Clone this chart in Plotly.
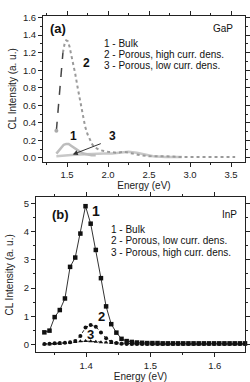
import plotly.graph_objects as go

# ---------------- GaP panel (a) ----------------
gap_e2 = [1.37, 1.39, 1.41, 1.43, 1.45, 1.47, 1.49, 1.51, 1.53, 1.55, 1.57, 1.60, 1.63, 1.66,
          1.69, 1.72, 1.75, 1.78, 1.81, 1.84, 1.87, 1.90, 1.95, 2.00, 2.10, 2.20, 2.30, 2.40,
          2.50, 2.70, 2.90, 3.10, 3.30, 3.55]
gap_i2 = [0.31, 0.52, 0.78, 1.02, 1.20, 1.30, 1.34, 1.33, 1.27, 1.19, 1.10, 0.96, 0.80, 0.64,
          0.48, 0.36, 0.27, 0.20, 0.15, 0.12, 0.10, 0.09, 0.08, 0.07, 0.06, 0.07, 0.05, 0.03,
          0.02, 0.02, 0.01, 0.01, 0.01, 0.01]
gap_e1 = [1.37, 1.40, 1.43, 1.46, 1.49, 1.52, 1.55, 1.58, 1.62, 1.66, 1.70, 1.75, 1.80, 1.85]
gap_i1 = [0.05, 0.08, 0.12, 0.15, 0.16, 0.16, 0.14, 0.12, 0.09, 0.07, 0.05, 0.04, 0.03, 0.03]
gap_e3 = [1.37, 1.45, 1.55, 1.65, 1.75, 1.85, 1.95, 2.05, 2.15, 2.25, 2.35, 2.45, 2.55, 2.70, 2.90]
gap_i3 = [0.02, 0.03, 0.035, 0.04, 0.045, 0.05, 0.05, 0.05, 0.06, 0.07, 0.06, 0.04, 0.02, 0.01, 0.01]
gap_legend = ["1 - Bulk", "2 - Porous, high curr. dens.", "3 - Porous, low curr. dens."]

# ---------------- InP panel (b) ----------------
inp_e = [1.335, 1.343, 1.351, 1.359, 1.367, 1.375, 1.383, 1.391, 1.399, 1.407, 1.415, 1.423,
         1.431, 1.439, 1.447, 1.455, 1.463, 1.471, 1.479, 1.487, 1.495, 1.503, 1.511, 1.519,
         1.527, 1.535, 1.543, 1.551, 1.559, 1.567, 1.575, 1.583, 1.591, 1.599, 1.607, 1.615,
         1.623, 1.631, 1.639, 1.647]
inp_bulk = [0.43, 0.49, 0.97, 1.22, 1.63, 2.75, 3.08, 3.93, 4.90, 4.28, 3.35, 2.35,
            1.35, 0.72, 0.42, 0.20, 0.12, 0.09, 0.07, 0.06, 0.05, 0.05, 0.05, 0.04,
            0.04, 0.04, 0.04, 0.04, 0.04, 0.04, 0.04, 0.04, 0.04, 0.04, 0.04, 0.04,
            0.04, 0.04, 0.04, 0.04]
inp_low = [0.02, 0.03, 0.04, 0.05, 0.06, 0.08, 0.12, 0.30, 0.60, 0.69, 0.63, 0.42,
           0.22, 0.10, 0.05, 0.03, 0.02, 0.02, 0.02, 0.02, 0.02, 0.02, 0.02, 0.02,
           0.02, 0.02, 0.02, 0.02, 0.02, 0.02, 0.02, 0.02, 0.02, 0.02, 0.02, 0.02,
           0.02, 0.02, 0.02, 0.02]
inp_high = [0.01, 0.01, 0.02, 0.03, 0.05, 0.07, 0.09, 0.11, 0.12, 0.11, 0.10, 0.08,
            0.07, 0.05, 0.04, 0.03, 0.02, 0.01, 0.01, 0.01, 0.01, 0.01, 0.01, 0.01,
            0.01, 0.01, 0.01, 0.01, 0.01, 0.01, 0.01, 0.01, 0.01, 0.01, 0.01, 0.01,
            0.01, 0.01, 0.01, 0.01]
inp_legend = ["1 - Bulk", "2 - Porous, low curr. dens.", "3 - Porous, high curr. dens."]

FONT = "Liberation Sans, Arial, sans-serif"
fig = go.Figure()

# panel (a) traces
fig.add_trace(go.Scatter(x=gap_e3, y=gap_i3, mode="lines", line=dict(color="#c8c8c8", width=2.5),
                         xaxis="x", yaxis="y", showlegend=False))
fig.add_trace(go.Scatter(x=gap_e1, y=gap_i1, mode="lines", line=dict(color="#bdbdbd", width=2.5),
                         xaxis="x", yaxis="y", showlegend=False))
fig.add_trace(go.Scatter(x=gap_e2[4:], y=gap_i2[4:], mode="lines", line=dict(color="#9a9a9a", width=2, dash="dot"),
                         xaxis="x", yaxis="y", showlegend=False))
fig.add_trace(go.Scatter(x=gap_e2[:5], y=gap_i2[:5], mode="lines", line=dict(color="#444444", width=1.5, dash="dash"),
                         xaxis="x", yaxis="y", showlegend=False))
fig.add_trace(go.Scatter(x=gap_e2[:1], y=gap_i2[:1], mode="markers", marker=dict(color="#aaaaaa", size=4),
                         xaxis="x", yaxis="y", showlegend=False))

# panel (b) traces
fig.add_trace(go.Scatter(x=inp_e, y=inp_high, mode="lines+markers",
                         line=dict(color="#222", width=1, dash="dot"),
                         marker=dict(symbol="triangle-up", size=4, color="#111"),
                         xaxis="x2", yaxis="y2", showlegend=False, cliponaxis=False))
fig.add_trace(go.Scatter(x=inp_e, y=inp_low, mode="lines+markers",
                         line=dict(color="#222", width=1, dash="dot"),
                         marker=dict(symbol="circle", size=4, color="#111"),
                         xaxis="x2", yaxis="y2", showlegend=False, cliponaxis=False))
fig.add_trace(go.Scatter(x=inp_e, y=inp_bulk, mode="lines+markers",
                         line=dict(color="#333", width=1),
                         marker=dict(symbol="square", size=4.5, color="#111"),
                         xaxis="x2", yaxis="y2", showlegend=False, cliponaxis=False))

ax_common = dict(showline=True, linecolor="#222", linewidth=1, mirror="allticks",
                 ticks="outside", ticklen=4, tickcolor="#222", showgrid=False, zeroline=False,
                 tickfont=dict(family=FONT, size=9.5, color="#222"))

fig.update_layout(
    width=250, height=382,
    margin=dict(l=0, r=0, t=0, b=0),
    paper_bgcolor="white", plot_bgcolor="white",
    font=dict(family=FONT, size=10, color="#222"),
    xaxis=dict(domain=[43/250, 245/250], anchor="y", range=[1.207, 3.67], dtick=0.5,
               tickformat=".1f", minor=dict(dtick=0.25, ticklen=2, ticks="outside", tickcolor="#222"),
               title=dict(text="Energy (eV)", font=dict(family=FONT, size=10, color="#222"), standoff=2),
               **ax_common),
    yaxis=dict(domain=[1-160/382, 1-12/382], anchor="x", range=[-0.045, 1.62], dtick=0.2,
               tickformat=".1f", minor=dict(dtick=0.1, ticklen=2, ticks="outside", tickcolor="#222"),
               title=dict(text="CL Intensity (a. u.)", font=dict(family=FONT, size=10, color="#222"), standoff=4),
               **ax_common),
    xaxis2=dict(domain=[36/250, 245/250], anchor="y2", range=[1.322, 1.647], dtick=0.1,
                tickformat=".1f", minor=dict(dtick=0.05, ticklen=2, ticks="outside", tickcolor="#222"),
                title=dict(text="Energy (eV)", font=dict(family=FONT, size=10, color="#222"), standoff=4),
                **ax_common),
    yaxis2=dict(domain=[1-353/382, 1-196/382], anchor="x2", range=[-0.28, 5.21], dtick=1,
                minor=dict(dtick=0.5, ticklen=2, ticks="outside", tickcolor="#222"),
                title=dict(text="CL Intensity (a. u.)", font=dict(family=FONT, size=10, color="#222"), standoff=8),
                **ax_common),
)

ann = []
def txt(x, y, s, xr, yr, size=10, bold=False, xanchor="left"):
    ann.append(dict(x=x, y=y, xref=xr, yref=yr, text=("<b>%s</b>" % s) if bold else s,
                    showarrow=False, xanchor=xanchor, yanchor="middle",
                    font=dict(family=FONT, size=size, color="#111")))

# panel (a) labels
txt(1.27, 1.48, "(a)", "x", "y", size=13, bold=True)
txt(3.55, 1.48, "GaP", "x", "y", size=10, xanchor="right")
for s, yy in zip(gap_legend, [1.31, 1.18, 1.05]):
    txt(1.93, yy, s, "x", "y", size=10)
txt(1.67, 1.08, "2", "x", "y", size=12, bold=True)
txt(1.51, 0.25, "1", "x", "y", size=12, bold=True)
txt(1.99, 0.25, "3", "x", "y", size=12, bold=True)
ann.append(dict(x=1.57, y=0.04, ax=1.93, ay=0.17, xref="x", yref="y", axref="x", ayref="y",
                showarrow=True, arrowhead=2, arrowsize=1, arrowwidth=1, arrowcolor="#333", text=""))

# panel (b) labels
txt(1.343, 4.6, "(b)", "x2", "y2", size=13, bold=True)
txt(1.637, 4.6, "InP", "x2", "y2", size=10, xanchor="right")
for s, yy in zip(inp_legend, [4.09, 3.67, 3.25]):
    txt(1.436, yy, s, "x2", "y2", size=10)
txt(1.406, 4.72, "1", "x2", "y2", size=14, bold=True)
txt(1.415, 1.0, "2", "x2", "y2", size=13, bold=True)
txt(1.398, 0.34, "3", "x2", "y2", size=13, bold=True)

fig.update_layout(annotations=ann)
fig.write_html("out.html",
               config={"displayModeBar": False, "staticPlot": True},
               post_script="document.body.style.margin='0';document.body.style.padding='0';"
                           "document.body.style.overflow='hidden';")
